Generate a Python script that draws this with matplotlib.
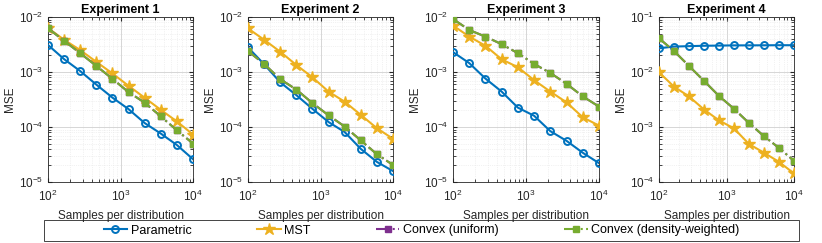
import numpy as np
import matplotlib
matplotlib.use('Agg')
import matplotlib.pyplot as plt
from matplotlib.patches import Rectangle

# samples per distribution (log-spaced, 10 points)
samples = [100, 167, 278, 464, 774, 1292, 2154, 3594, 5995, 10000]

titles = ['Experiment 1', 'Experiment 2', 'Experiment 3', 'Experiment 4']

parametric = [
    [3.1e-3, 1.71e-3, 1.04e-3, 5.9e-4, 3.42e-4, 2.11e-4, 1.18e-4, 7.6e-5, 4.7e-5, 2.6e-5],
    [2.8e-3, 1.38e-3, 6.5e-4, 3.8e-4, 2.14e-4, 1.23e-4, 8.1e-5, 4.0e-5, 2.32e-5, 1.58e-5],
    [2.3e-3, 1.45e-3, 7.6e-4, 4.4e-4, 2.25e-4, 1.6e-4, 8.4e-5, 5.6e-5, 3.4e-5, 2.2e-5],
    [2.7e-2, 2.9e-2, 2.95e-2, 3.0e-2, 3.02e-2, 3.05e-2, 3.05e-2, 3.06e-2, 3.07e-2, 3.07e-2],
]
mst = [
    [6.3e-3, 3.85e-3, 2.5e-3, 1.53e-3, 9.4e-4, 5.6e-4, 3.4e-4, 2.05e-4, 1.26e-4, 7.3e-5],
    [6.2e-3, 3.85e-3, 2.34e-3, 1.34e-3, 8.0e-4, 4.4e-4, 2.88e-4, 1.66e-4, 9.5e-5, 6.1e-5],
    [7.0e-3, 4.4e-3, 3.0e-3, 1.7e-3, 1.22e-3, 7.1e-4, 4.4e-4, 2.8e-4, 1.5e-4, 1.06e-4],
    [9.9e-3, 5.4e-3, 3.6e-3, 2.08e-3, 1.32e-3, 9.4e-4, 4.9e-4, 3.4e-4, 2.32e-4, 1.43e-4],
]
convex_uniform = [
    [6.2e-3, 3.69e-3, 2.2e-3, 1.29e-3, 7.5e-4, 4.3e-4, 2.77e-4, 1.56e-4, 8.7e-5, 5.0e-5],
    [2.4e-3, 1.4e-3, 7.4e-4, 4.8e-4, 2.72e-4, 1.63e-4, 1.02e-4, 5.7e-5, 3.2e-5, 2.04e-5],
    [9.2e-3, 5.8e-3, 4.4e-3, 3.2e-3, 2.2e-3, 1.4e-3, 9.6e-4, 6.1e-4, 3.6e-4, 2.35e-4],
    [4.1e-2, 2.4e-2, 1.29e-2, 6.9e-3, 3.67e-3, 2.14e-3, 1.18e-3, 6.8e-4, 4.16e-4, 2.42e-4],
]
convex_density = [
    [6.2e-3, 3.69e-3, 2.2e-3, 1.29e-3, 7.5e-4, 4.3e-4, 2.77e-4, 1.56e-4, 8.7e-5, 5.0e-5],
    [2.4e-3, 1.4e-3, 7.4e-4, 4.8e-4, 2.72e-4, 1.63e-4, 1.02e-4, 5.7e-5, 3.2e-5, 2.04e-5],
    [9.2e-3, 5.8e-3, 4.4e-3, 3.2e-3, 2.2e-3, 1.4e-3, 9.6e-4, 6.1e-4, 3.6e-4, 2.35e-4],
    [4.1e-2, 2.4e-2, 1.29e-2, 6.9e-3, 3.67e-3, 2.14e-3, 1.18e-3, 6.8e-4, 4.16e-4, 2.42e-4],
]
ylims = [(1e-5, 1e-2), (1e-5, 1e-2), (1e-5, 1e-2), (1e-4, 1e-1)]

blue = '#0072BD'
yellow = '#EDB120'
purple = '#7E2F8E'
green = '#77AC30'

plt.rcParams['font.family'] = ['Liberation Sans', 'DejaVu Sans']
plt.rcParams['font.size'] = 8.5

fig = plt.figure(figsize=(8.22, 2.43), dpi=100)

lefts = [48, 248, 453, 659]
rights = [193, 393, 599, 794]

for i in range(4):
    ax = fig.add_axes([lefts[i] / 822, 1 - 182 / 243, (rights[i] - lefts[i]) / 822, 165 / 243])
    ax.set_xscale('log')
    ax.set_yscale('log')
    ax.plot(samples, parametric[i], '-o', color=blue, lw=1.5, ms=5, mfc='none', mew=1.4,
            label='Parametric', zorder=3)
    ax.plot(samples, mst[i], '-*', color=yellow, lw=1.5, ms=9, label='MST', zorder=3)
    ax.plot(samples, convex_uniform[i], '-.s', color=purple, lw=1.5, ms=5,
            label='Convex (uniform)', zorder=3)
    ax.plot(samples, convex_density[i], '-.s', color=green, lw=1.5, ms=5,
            label='Convex (density-weighted)', zorder=3)
    ax.set_xlim(100, 10000)
    ax.set_ylim(*ylims[i])
    ax.set_title(titles[i], fontweight='bold', fontsize=9, pad=3)
    ax.set_xlabel('Samples per distribution', color='#262626', labelpad=4)
    ax.set_ylabel('MSE', color='#262626', labelpad=2)
    ax.grid(True, which='major', color='#d0d0d0', lw=0.6)
    ax.grid(True, which='minor', color='#e6e6e6', lw=0.5, ls=':')
    ax.tick_params(which='both', direction='in', top=True, right=True, colors='#262626',
                   labelsize=8.5)
    ax.tick_params(axis='x', which='major', pad=5)
    ax.tick_params(which='minor', length=2)
    ax.tick_params(which='major', length=3)
    for s in ax.spines.values():
        s.set_color('#262626')
        s.set_linewidth(0.6)
    if i == 0:
        handles, labels = ax.get_legend_handles_labels()

# legend frame spanning the full width
fig.patches.append(Rectangle((44 / 822, 1 - 241 / 243), 755 / 822, 21 / 243,
                             transform=fig.transFigure, fill=False,
                             edgecolor='#262626', lw=0.6))
fig.legend(handles, labels, loc='center', ncol=4,
           bbox_to_anchor=(421.5 / 822, 1 - 230.5 / 243),
           frameon=False, fontsize=9, columnspacing=5.2,
           handlelength=1.9, handletextpad=0.3, borderpad=0.2)

fig.savefig('out.png', dpi=100)
